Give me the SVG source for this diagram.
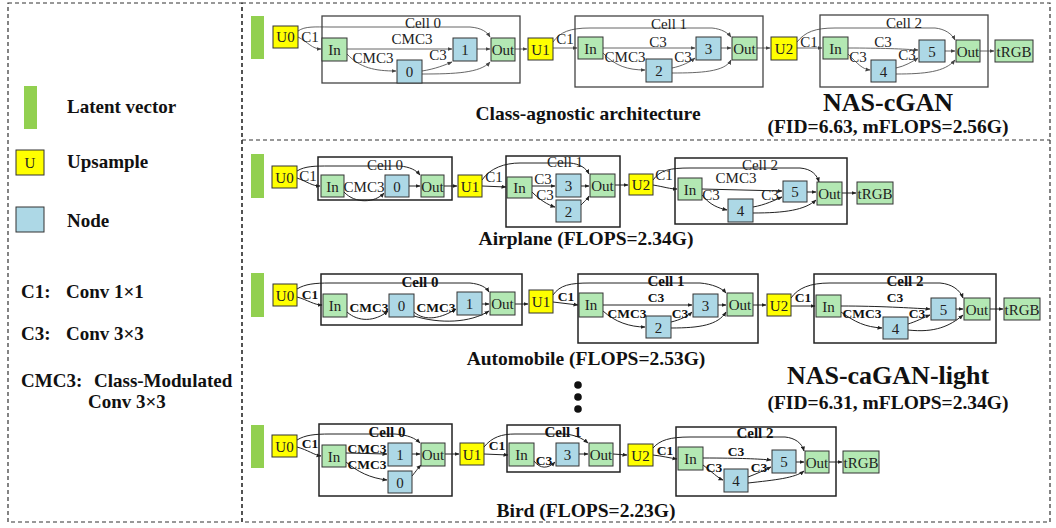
<svg xmlns="http://www.w3.org/2000/svg" width="1056" height="528" viewBox="0 0 1056 528">
<defs>
<marker id="ah" markerWidth="5" markerHeight="5" refX="4.5" refY="2.5" orient="auto" markerUnits="userSpaceOnUse"><path d="M0,0.5 L5,2.5 L0,4.5 z" fill="#222"/></marker>
<marker id="ahg" markerWidth="5" markerHeight="5" refX="4.5" refY="2.5" orient="auto" markerUnits="userSpaceOnUse"><path d="M0,0.5 L5,2.5 L0,4.5 z" fill="#444"/></marker>
<style>
.dash{fill:none;stroke:#333;stroke-width:1.2;stroke-dasharray:4,3}
.cell{fill:none;stroke:#222;stroke-width:1.5}
.cell1{fill:none;stroke:#444;stroke-width:1.3}
.lat{fill:#92d050}
.up{fill:#ffff00;stroke:#333;stroke-width:1}
.io{fill:#b3e8b3;stroke:#333;stroke-width:1}
.nd{fill:#add8e6;stroke:#333;stroke-width:1}
.nt{font-family:"Liberation Serif",serif;font-size:15px;fill:#222;text-anchor:middle}
.lb{font-family:"Liberation Serif",serif;font-size:15px;fill:#222;text-anchor:middle}
.lbb{font-family:"Liberation Serif",serif;font-size:13.5px;font-weight:bold;fill:#111;text-anchor:middle}
.cb{font-family:"Liberation Serif",serif;font-size:15px;font-weight:bold;fill:#111;text-anchor:middle}
.ttl{font-family:"Liberation Serif",serif;font-size:19.5px;font-weight:bold;fill:#111;text-anchor:middle}
.big{font-family:"Liberation Serif",serif;font-size:26px;font-weight:bold;fill:#111;text-anchor:middle}
.sub{font-family:"Liberation Serif",serif;font-size:19.5px;font-weight:bold;fill:#111;text-anchor:middle}
.leg{font-family:"Liberation Serif",serif;font-size:19px;font-weight:bold;fill:#111}
.e1{fill:none;stroke:#555;stroke-width:0.9;marker-end:url(#ahg)}
.e{fill:none;stroke:#222;stroke-width:1;marker-end:url(#ah)}
</style>
</defs>
<rect x="0" y="0" width="1056" height="528" fill="#fff"/>
<g id="frames">
<rect class="dash" x="8" y="3" width="234" height="519"/>
<rect class="dash" x="242" y="3" width="808" height="519"/>
<line class="dash" x1="242" y1="140" x2="1050" y2="140"/>
</g>
<g id="legend">
<rect class="lat" x="24" y="86" width="13" height="43"/>
<text class="leg" x="67" y="113">Latent vector</text>
<rect class="up" x="16" y="150" width="28" height="25"/>
<text class="nt" x="30" y="168">U</text>
<text class="leg" x="67" y="168">Upsample</text>
<rect class="nd" x="16" y="207" width="28" height="25"/>
<text class="leg" x="67" y="227">Node</text>
<text class="leg" x="21" y="298">C1:</text><text class="leg" x="66" y="298">Conv 1×1</text>
<text class="leg" x="21" y="340">C3:</text><text class="leg" x="66" y="340">Conv 3×3</text>
<text class="leg" x="21" y="387">CMC3:</text><text class="leg" x="94" y="387">Class-Modulated</text>
<text class="leg" x="88" y="408">Conv 3×3</text>
</g>
<g id="connectors">
<!-- row 1 -->
<path class="e1" d="M298,37 C308,42 312,49 321,49"/>
<path class="e1" d="M298,31 C305,26 315,27 330,27 L470,27 C482,28 487,32 490,37"/>
<path class="e1" d="M347,49 L452,49"/>
<path class="e1" d="M347,54 C360,68 375,71 396,71"/>
<path class="e1" d="M422,71 C435,69 445,65 452,62"/>
<path class="e1" d="M422,74 C455,74 480,73 490,62"/>
<path class="e1" d="M477,49 L490,49"/>
<path class="e1" d="M515,49 L527,49"/>
<path class="e1" d="M553,48 L577,48"/>
<path class="e1" d="M553,42 C560,32 570,28 590,28 L712,28 C722,29 728,33 731,37"/>
<path class="e1" d="M603,48 L695,48"/>
<path class="e1" d="M603,53 C615,66 628,70 645,70"/>
<path class="e1" d="M672,68 C682,66 690,62 695,58"/>
<path class="e1" d="M672,73 C700,73 725,72 731,60"/>
<path class="e1" d="M721,48 L731,48"/>
<path class="e1" d="M757,48 L770,48"/>
<path class="e1" d="M797,48 L822,48"/>
<path class="e1" d="M797,42 C805,32 815,28 835,28 L935,28 C945,29 952,34 955,40"/>
<path class="e1" d="M848,48 C880,48 905,49 918,50"/>
<path class="e1" d="M848,54 C858,64 862,69 870,70"/>
<path class="e1" d="M896,68 C905,66 912,62 918,58"/>
<path class="e1" d="M896,74 C925,74 945,72 955,60"/>
<path class="e1" d="M945,51 L955,51"/>
<path class="e1" d="M980,51 L994,51"/>
<!-- row 2 -->
<path class="e" d="M297,178 C308,182 312,186 320,186"/>
<path class="e" d="M297,171 C305,166 315,166 330,166 L400,166 C410,167 416,170 420,175"/>
<path class="e" d="M344,192 C355,204 375,203 384,193"/>
<path class="e" d="M409,186 L420,186"/>
<path class="e" d="M444,186 L457,186"/>
<path class="e" d="M482,186 L506,187"/>
<path class="e" d="M482,180 C490,168 505,163 520,163 L570,163 C580,164 586,168 589,174"/>
<path class="e" d="M532,186 L555,186"/>
<path class="e" d="M532,192 C540,200 548,205 555,207"/>
<path class="e" d="M581,186 L589,186"/>
<path class="e" d="M581,205 C586,200 588,198 589,196"/>
<path class="e" d="M615,185 L628,185"/>
<path class="e" d="M653,185 C665,187 670,189 677,189"/>
<path class="e" d="M653,180 C660,170 670,168 690,168 L800,168 C812,169 817,175 819,182"/>
<path class="e" d="M702,189 L782,191"/>
<path class="e" d="M702,195 C710,205 718,208 727,210"/>
<path class="e" d="M753,207 C765,205 775,200 782,197"/>
<path class="e" d="M753,213 C785,213 805,210 816,200"/>
<path class="e" d="M807,192 L816,192"/>
<path class="e" d="M842,193 L856,193"/>
<!-- row 3 -->
<path class="e" d="M297,297 C308,300 314,305 322,305"/>
<path class="e" d="M297,289 C305,284 315,283 330,283 L470,283 C480,284 486,287 489,292"/>
<path class="e" d="M347,312 C358,322 375,322 388,311"/>
<path class="e" d="M414,312 C425,322 442,318 456,309"/>
<path class="e" d="M414,316 C440,324 470,323 489,311"/>
<path class="e" d="M482,304 L489,304"/>
<path class="e" d="M515,304 L528,304"/>
<path class="e" d="M553,302 L578,305"/>
<path class="e" d="M553,295 C560,285 570,283 590,283 L700,283 C712,284 722,288 726,293"/>
<path class="e" d="M603,305 L692,305"/>
<path class="e" d="M603,311 C615,322 630,327 645,327"/>
<path class="e" d="M671,322 C680,320 688,316 692,312"/>
<path class="e" d="M671,328 C700,328 718,325 726,312"/>
<path class="e" d="M718,305 L726,305"/>
<path class="e" d="M753,305 L766,305"/>
<path class="e" d="M791,306 L815,306"/>
<path class="e" d="M791,298 C798,288 810,283 830,283 L940,283 C952,284 960,290 963,298"/>
<path class="e" d="M841,306 C880,306 910,308 930,309"/>
<path class="e" d="M841,312 C855,322 865,327 882,328"/>
<path class="e" d="M908,324 C915,322 925,317 930,315"/>
<path class="e" d="M908,330 C935,333 950,326 963,315"/>
<path class="e" d="M956,309 L963,309"/>
<path class="e" d="M990,309 L1003,309"/>
<!-- row 4 -->
<path class="e" d="M297,447 C308,450 314,455 321,456"/>
<path class="e" d="M297,440 C305,435 315,434 330,434 L395,434 C408,435 415,438 420,443"/>
<path class="e" d="M346,453 L387,454"/>
<path class="e" d="M346,462 C358,472 370,478 387,480"/>
<path class="e" d="M412,454 L420,454"/>
<path class="e" d="M412,476 C417,470 418,468 421,465"/>
<path class="e" d="M445,454 L459,454"/>
<path class="e" d="M484,454 L508,455"/>
<path class="e" d="M484,447 C492,437 502,434 515,434 L565,434 C575,435 582,438 588,443"/>
<path class="e" d="M534,461 C540,469 548,469 555,462"/>
<path class="e" d="M579,454 L588,454"/>
<path class="e" d="M613,454 L627,455"/>
<path class="e" d="M653,455 C662,456 670,458 677,459"/>
<path class="e" d="M653,448 C660,440 670,437 690,437 L785,437 C795,438 802,443 804,451"/>
<path class="e" d="M703,458 C740,458 760,459 771,460"/>
<path class="e" d="M703,465 C712,472 718,478 723,480"/>
<path class="e" d="M748,477 C756,474 765,470 771,467"/>
<path class="e" d="M748,483 C775,480 795,478 804,471"/>
<path class="e" d="M796,462 L804,462"/>
<path class="e" d="M829,462 L842,462"/>
</g>
<g id="row1">
<rect class="lat" x="251" y="16" width="13" height="43"/>
<g id="r1-u0"><rect class="up" x="273" y="26" width="25" height="22"/><text class="nt" x="285.5" y="42">U0</text></g>
<g id="r1-cell0"><rect class="cell1" x="322" y="16" width="198" height="67"/><text class="lb" x="423" y="28">Cell 0</text></g>
<g id="r1-in0"><rect class="io" x="322" y="38" width="25" height="23"/><text class="nt" x="334.5" y="54.5">In</text></g>
<g id="r1-n1"><rect class="nd" x="453" y="38" width="24" height="23"/><text class="nt" x="465" y="54.5">1</text></g>
<g id="r1-n0"><rect class="nd" x="397" y="60" width="25" height="23"/><text class="nt" x="409.5" y="76.5">0</text></g>
<g id="r1-out0"><rect class="io" x="491" y="38" width="24" height="23"/><text class="nt" x="503" y="54.5">Out</text></g>
<text class="lb" x="310" y="42">C1</text><text class="lb" x="412" y="44">CMC3</text><text class="lb" x="373" y="63">CMC3</text><text class="lb" x="438" y="60">C3</text>
<g id="r1-u1"><rect class="up" x="528" y="38" width="25" height="22"/><text class="nt" x="540.5" y="54.5">U1</text></g>
<g id="r1-cell1"><rect class="cell1" x="575" y="16" width="188" height="71"/><text class="lb" x="669" y="29">Cell 1</text></g>
<g id="r1-in1"><rect class="io" x="578" y="37" width="25" height="22"/><text class="nt" x="590.5" y="53.5">In</text></g>
<g id="r1-n3"><rect class="nd" x="696" y="37" width="25" height="23"/><text class="nt" x="708.5" y="53.5">3</text></g>
<g id="r1-n2"><rect class="nd" x="646" y="59" width="26" height="23"/><text class="nt" x="659" y="75.5">2</text></g>
<g id="r1-out1"><rect class="io" x="732" y="37" width="25" height="23"/><text class="nt" x="744.5" y="53.5">Out</text></g>
<text class="lb" x="565" y="44">C1</text><text class="lb" x="658" y="47">C3</text><text class="lb" x="625" y="62">CMC3</text><text class="lb" x="683" y="62">C3</text>
<g id="r1-u2"><rect class="up" x="771" y="37" width="26" height="23"/><text class="nt" x="784" y="53.5">U2</text></g>
<g id="r1-cell2"><rect class="cell1" x="820" y="15" width="168" height="72"/><text class="lb" x="904" y="28">Cell 2</text></g>
<g id="r1-in2"><rect class="io" x="823" y="37" width="25" height="22"/><text class="nt" x="835.5" y="53.5">In</text></g>
<g id="r1-n5"><rect class="nd" x="919" y="40" width="26" height="22"/><text class="nt" x="932" y="56.5">5</text></g>
<g id="r1-n4"><rect class="nd" x="871" y="60" width="25" height="22"/><text class="nt" x="883.5" y="76.5">4</text></g>
<g id="r1-out2"><rect class="io" x="956" y="40" width="24" height="22"/><text class="nt" x="968" y="56.5">Out</text></g>
<g id="r1-trgb"><rect class="io" x="995" y="40" width="38" height="22"/><text class="nt" x="1014" y="56.5">tRGB</text></g>
<text class="lb" x="809" y="47">C1</text><text class="lb" x="883" y="47">C3</text><text class="lb" x="858" y="62">C3</text><text class="lb" x="907" y="60">C3</text>
<text class="ttl" x="588" y="120">Class-agnostic architecture</text>
<text class="big" x="888" y="111">NAS-cGAN</text>
<text class="sub" x="888" y="133">(FID=6.63, mFLOPS=2.56G)</text>
</g>
<g id="row2">
<rect class="lat" x="251" y="154" width="13" height="44"/>
<g id="r2-u0"><rect class="up" x="272" y="166" width="25" height="22"/><text class="nt" x="284.5" y="182.5">U0</text></g>
<g id="r2-cell0"><rect class="cell" x="318" y="157" width="134" height="43"/><text class="lb" x="385" y="170">Cell 0</text></g>
<g id="r2-in0"><rect class="io" x="321" y="175" width="23" height="22"/><text class="nt" x="332.5" y="191.5">In</text></g>
<g id="r2-n0"><rect class="nd" x="385" y="175" width="24" height="22"/><text class="nt" x="397" y="191.5">0</text></g>
<g id="r2-out0"><rect class="io" x="421" y="175" width="23" height="22"/><text class="nt" x="432.5" y="191.5">Out</text></g>
<text class="lb" x="308" y="181">C1</text><text class="lb" x="364" y="192">CMC3</text>
<g id="r2-u1"><rect class="up" x="458" y="175" width="24" height="22"/><text class="nt" x="470" y="191.5">U1</text></g>
<g id="r2-cell1"><rect class="cell" x="506" y="156" width="114" height="71"/><text class="lb" x="565" y="167">Cell 1</text></g>
<g id="r2-in1"><rect class="io" x="507" y="177" width="25" height="21"/><text class="nt" x="519.5" y="192.5">In</text></g>
<g id="r2-n3"><rect class="nd" x="556" y="174" width="25" height="23"/><text class="nt" x="568.5" y="190.5">3</text></g>
<g id="r2-n2"><rect class="nd" x="556" y="200" width="25" height="22"/><text class="nt" x="568.5" y="216.5">2</text></g>
<g id="r2-out1"><rect class="io" x="590" y="174" width="25" height="23"/><text class="nt" x="602.5" y="190.5">Out</text></g>
<text class="lb" x="494" y="182">C1</text><text class="lb" x="543" y="184">C3</text><text class="lb" x="545" y="200">C3</text>
<g id="r2-u2"><rect class="up" x="629" y="174" width="24" height="21"/><text class="nt" x="641" y="190">U2</text></g>
<g id="r2-cell2"><rect class="cell" x="675" y="158" width="172" height="66"/><text class="lb" x="760" y="170">Cell 2</text></g>
<g id="r2-in2"><rect class="io" x="678" y="178" width="24" height="22"/><text class="nt" x="690" y="194.5">In</text></g>
<g id="r2-n5"><rect class="nd" x="783" y="181" width="24" height="21"/><text class="nt" x="795" y="196.5">5</text></g>
<g id="r2-n4"><rect class="nd" x="728" y="199" width="25" height="23"/><text class="nt" x="740.5" y="215.5">4</text></g>
<g id="r2-out2"><rect class="io" x="817" y="182" width="25" height="23"/><text class="nt" x="829.5" y="198.5">Out</text></g>
<g id="r2-trgb"><rect class="io" x="857" y="182" width="36" height="22"/><text class="nt" x="875" y="198.5">tRGB</text></g>
<text class="lb" x="664" y="180">C1</text><text class="lb" x="736" y="183">CMC3</text><text class="lb" x="711" y="200">C3</text><text class="lb" x="770" y="200">C3</text>
<text class="ttl" x="586" y="245">Airplane (FLOPS=2.34G)</text>
</g>
<g id="row3">
<rect class="lat" x="251" y="273" width="13" height="44"/>
<g id="r3-u0"><rect class="up" x="273" y="284" width="24" height="22"/><text class="nt" x="285" y="300.5">U0</text></g>
<g id="r3-cell0"><rect class="cell" x="321" y="274" width="201" height="51"/><text class="cb" x="420" y="287">Cell 0</text></g>
<g id="r3-in0"><rect class="io" x="323" y="294" width="24" height="23"/><text class="nt" x="335" y="310.5">In</text></g>
<g id="r3-n0"><rect class="nd" x="389" y="294" width="25" height="23"/><text class="nt" x="401.5" y="310.5">0</text></g>
<g id="r3-n1"><rect class="nd" x="457" y="292" width="25" height="23"/><text class="nt" x="469.5" y="308.5">1</text></g>
<g id="r3-out0"><rect class="io" x="490" y="292" width="25" height="23"/><text class="nt" x="502.5" y="308.5">Out</text></g>
<text class="lbb" x="310" y="299">C1</text><text class="lbb" x="369" y="312">CMC3</text><text class="lbb" x="436" y="312">CMC3</text>
<g id="r3-u1"><rect class="up" x="529" y="290" width="24" height="23"/><text class="nt" x="541" y="306.5">U1</text></g>
<g id="r3-cell1"><rect class="cell" x="578" y="274" width="180" height="69"/><text class="cb" x="666" y="286">Cell 1</text></g>
<g id="r3-in1"><rect class="io" x="579" y="293" width="24" height="24"/><text class="nt" x="591" y="310">In</text></g>
<g id="r3-n3"><rect class="nd" x="693" y="294" width="25" height="23"/><text class="nt" x="705.5" y="310.5">3</text></g>
<g id="r3-n2"><rect class="nd" x="646" y="316" width="25" height="22"/><text class="nt" x="658.5" y="332.5">2</text></g>
<g id="r3-out1"><rect class="io" x="727" y="293" width="26" height="23"/><text class="nt" x="740" y="309.5">Out</text></g>
<text class="lbb" x="566" y="301">C1</text><text class="lbb" x="656" y="302">C3</text><text class="lbb" x="627" y="318">CMC3</text><text class="lbb" x="680" y="318">C3</text>
<g id="r3-u2"><rect class="up" x="767" y="294" width="24" height="22"/><text class="nt" x="779" y="310.5">U2</text></g>
<g id="r3-cell2"><rect class="cell" x="814" y="274" width="182" height="69"/><text class="cb" x="905" y="286">Cell 2</text></g>
<g id="r3-in2"><rect class="io" x="816" y="295" width="25" height="22"/><text class="nt" x="828.5" y="311.5">In</text></g>
<g id="r3-n5"><rect class="nd" x="931" y="298" width="25" height="22"/><text class="nt" x="943.5" y="314.5">5</text></g>
<g id="r3-n4"><rect class="nd" x="883" y="317" width="25" height="22"/><text class="nt" x="895.5" y="333.5">4</text></g>
<g id="r3-out2"><rect class="io" x="964" y="298" width="26" height="22"/><text class="nt" x="977" y="314.5">Out</text></g>
<g id="r3-trgb"><rect class="io" x="1004" y="298" width="36" height="22"/><text class="nt" x="1022" y="314.5">tRGB</text></g>
<text class="lbb" x="803" y="302">C1</text><text class="lbb" x="895" y="302">C3</text><text class="lbb" x="862" y="318">CMC3</text><text class="lbb" x="917" y="318">C3</text>
<text class="ttl" x="586" y="365">Automobile (FLOPS=2.53G)</text>
<text class="big" x="888" y="384">NAS-caGAN-light</text>
<text class="sub" x="888" y="409">(FID=6.31, mFLOPS=2.34G)</text>
<circle cx="578" cy="385" r="3.8" fill="#111"/>
<circle cx="578" cy="397" r="3.8" fill="#111"/>
<circle cx="578" cy="409" r="3.8" fill="#111"/>
</g>
<g id="row4">
<rect class="lat" x="251" y="425" width="13" height="43"/>
<g id="r4-u0"><rect class="up" x="272" y="435" width="25" height="22"/><text class="nt" x="284.5" y="451.5">U0</text></g>
<g id="r4-cell0"><rect class="cell" x="319" y="424" width="133" height="72"/><text class="cb" x="387" y="437">Cell 0</text></g>
<g id="r4-in0"><rect class="io" x="322" y="445" width="24" height="22"/><text class="nt" x="334" y="461.5">In</text></g>
<g id="r4-n1"><rect class="nd" x="388" y="443" width="24" height="23"/><text class="nt" x="400" y="459.5">1</text></g>
<g id="r4-n0"><rect class="nd" x="388" y="471" width="24" height="22"/><text class="nt" x="400" y="487.5">0</text></g>
<g id="r4-out0"><rect class="io" x="421" y="443" width="24" height="23"/><text class="nt" x="433" y="459.5">Out</text></g>
<text class="lbb" x="310" y="448">C1</text><text class="lbb" x="367" y="453">CMC3</text><text class="lbb" x="367" y="469">CMC3</text>
<g id="r4-u1"><rect class="up" x="460" y="443" width="24" height="22"/><text class="nt" x="472" y="459.5">U1</text></g>
<g id="r4-cell1"><rect class="cell" x="507" y="425" width="113" height="47"/><text class="cb" x="563" y="437">Cell 1</text></g>
<g id="r4-in1"><rect class="io" x="509" y="443" width="25" height="23"/><text class="nt" x="521.5" y="459.5">In</text></g>
<g id="r4-n3"><rect class="nd" x="556" y="443" width="23" height="23"/><text class="nt" x="567.5" y="459.5">3</text></g>
<g id="r4-out1"><rect class="io" x="589" y="443" width="24" height="23"/><text class="nt" x="601" y="459.5">Out</text></g>
<text class="lbb" x="497" y="450">C1</text><text class="lbb" x="544" y="465">C3</text>
<g id="r4-u2"><rect class="up" x="628" y="444" width="25" height="22"/><text class="nt" x="640.5" y="460.5">U2</text></g>
<g id="r4-cell2"><rect class="cell" x="676" y="427" width="160" height="69"/><text class="cb" x="755" y="438">Cell 2</text></g>
<g id="r4-in2"><rect class="io" x="678" y="447" width="25" height="23"/><text class="nt" x="690.5" y="463.5">In</text></g>
<g id="r4-n5"><rect class="nd" x="772" y="450" width="24" height="23"/><text class="nt" x="784" y="466.5">5</text></g>
<g id="r4-n4"><rect class="nd" x="724" y="469" width="24" height="23"/><text class="nt" x="736" y="485.5">4</text></g>
<g id="r4-out2"><rect class="io" x="805" y="451" width="24" height="22"/><text class="nt" x="817" y="467.5">Out</text></g>
<g id="r4-trgb"><rect class="io" x="843" y="451" width="36" height="22"/><text class="nt" x="861" y="467.5">tRGB</text></g>
<text class="lbb" x="665" y="455">C1</text><text class="lbb" x="736" y="456">C3</text><text class="lbb" x="714" y="472">C3</text><text class="lbb" x="759" y="472">C3</text>
<text class="ttl" x="586" y="517">Bird (FLOPS=2.23G)</text>
</g>
</svg>
